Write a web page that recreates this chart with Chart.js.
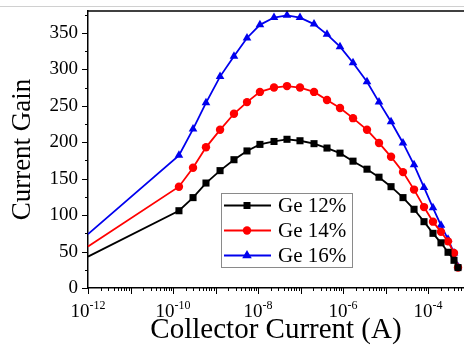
<!DOCTYPE html>
<html>
<head>
<meta charset="utf-8">
<script src="https://cdn.jsdelivr.net/npm/chart.js@4/dist/chart.umd.min.js"></script>
<style>
  body { margin: 0; background: #fff; }
</style>
</head>
<body>
<canvas id="myChart" width="464" height="345"></canvas>
<script>
'use strict';

//Data
let currents = [1e-12, 1.38e-10, 2.96e-10, 5.97e-10, 1.28e-9, 2.72e-9, 5.51e-9, 1.11e-8, 2.38e-8,
  4.81e-8, 9.73e-8, 2.08e-7, 4.20e-7, 8.50e-7, 1.72e-6, 3.67e-6, 7.03e-6, 1.35e-5, 2.58e-5,
  4.69e-5, 8.05e-5, 1.31e-4, 2.02e-4, 2.96e-4, 4.09e-4, 5.08e-4];
let gainGe12 = [43, 106, 124, 144, 161, 176, 188, 197, 201, 204, 202, 198, 192, 185, 174, 163,
  152, 139, 124, 108, 91, 75, 62, 49, 38, 28];
let gainGe14 = [57, 139, 165, 193, 217, 239, 255, 269, 275, 277, 275, 269, 258, 247, 233, 217,
  199, 180, 159, 135, 111, 91, 77, 64, 48, 28];
let gainGe16 = [74, 182, 218, 254, 290, 318, 343, 361, 371, 374, 371, 362, 348, 331, 309, 283,
  255, 228, 199, 169, 138, 110, 86, 67, 48, 29];
let seriesNames = ['Ge 12%', 'Ge 14%', 'Ge 16%'];
let seriesColors = ['#000000', '#ff0000', '#0000ee'];
let seriesMarkers = ['rect', 'circle', 'triangle'];
let xTickExponents = [-12, -10, -8, -6, -4];
let yTickLabels = [0, 50, 100, 150, 200, 250, 300, 350];

let serif = '"Liberation Serif", "Times New Roman", serif';

function toPoints(values){
  return values.map((v, i) => ({ x: currents[i], y: v }));
}

function makeDataset(i, values){
  return {
    label: seriesNames[i],
    data: toPoints(values),
    borderColor: seriesColors[i],
    backgroundColor: seriesColors[i],
    borderWidth: 1.8,
    pointStyle: seriesMarkers[i],
    pointRadius: ctx => ctx.dataIndex === 0 ? 0 : (i === 1 ? 4.2 : 5),
    pointBorderWidth: 0,
    tension: 0,
    clip: false
  };
}

function line(ctx, x1, y1, x2, y2){
  ctx.beginPath();
  ctx.moveTo(x1, y1);
  ctx.lineTo(x2, y2);
  ctx.stroke();
}

function marker(ctx, style, x, y){
  ctx.beginPath();
  if (style === 'rect'){
    ctx.rect(x - 3.5, y - 3.5, 7, 7);
  } else if (style === 'circle'){
    ctx.arc(x, y, 4.2, 0, Math.PI * 2);
  } else {
    ctx.moveTo(x, y - 5.5);
    ctx.lineTo(x + 4.76, y + 2.75);
    ctx.lineTo(x - 4.76, y + 2.75);
    ctx.closePath();
  }
  ctx.fill();
}

//Frame top, tick marks, power-of-ten labels and the boxed legend
let axisExtras = {
  id: 'axisExtras',
  afterDraw(chart){
    let ctx = chart.ctx;
    let area = chart.chartArea;
    let xs = chart.scales.x;
    let ys = chart.scales.y;
    ctx.save();

    ctx.strokeStyle = '#d0d0d0';
    ctx.lineWidth = 1;
    line(ctx, 0, 6.5, chart.width, 6.5);

    ctx.strokeStyle = '#000';
    ctx.lineWidth = 1.5;
    line(ctx, area.left, area.top, area.right, area.top);

    ctx.lineWidth = 1;
    for (let d = -12; d <= -3; d++){
      for (let k = 1; k <= 9; k++){
        let v = k * Math.pow(10, d);
        if (v > xs.max) break;
        let px = Math.round(xs.getPixelForValue(v)) + 0.5;
        line(ctx, px, area.bottom, px, area.bottom + (k === 1 ? 6 : 3));
      }
    }
    for (let v = 0; v <= ys.max; v += 25){
      let py = Math.round(ys.getPixelForValue(v)) + 0.5;
      line(ctx, area.left - (v % 50 === 0 ? 6 : 3), py, area.left, py);
    }

    ctx.fillStyle = '#000';
    ctx.textBaseline = 'alphabetic';
    ctx.textAlign = 'left';
    xTickExponents.forEach(e => {
      let px = xs.getPixelForValue(Math.pow(10, e));
      let exp = '-' + Math.abs(e);
      ctx.font = '19px ' + serif;
      let wBase = ctx.measureText('10').width;
      ctx.font = '12px ' + serif;
      let wExp = ctx.measureText(exp).width;
      let x0 = px - (wBase + wExp) / 2;
      ctx.font = '19px ' + serif;
      ctx.fillText('10', x0, 317);
      ctx.font = '12px ' + serif;
      ctx.fillText(exp, x0 + wBase, 309);
    });

    //legend
    let box = { left: 221, top: 193, width: 131, height: 74 };
    ctx.fillStyle = '#fff';
    ctx.fillRect(box.left, box.top, box.width, box.height);
    ctx.strokeStyle = '#8a8a8a';
    ctx.lineWidth = 1;
    ctx.strokeRect(box.left + 0.5, box.top + 0.5, box.width, box.height);
    ctx.font = '21px ' + serif;
    ctx.textBaseline = 'middle';
    seriesNames.forEach((name, i) => {
      let y = box.top + 12.5 + i * 25;
      ctx.strokeStyle = seriesColors[i];
      ctx.fillStyle = seriesColors[i];
      ctx.lineWidth = 1.8;
      line(ctx, box.left + 3, y, box.left + 50, y);
      marker(ctx, seriesMarkers[i], box.left + 26, y);
      ctx.fillStyle = '#000';
      ctx.fillText(name, box.left + 57, y + 1);
    });
    ctx.restore();
  }
};

let ctx = document.getElementById('myChart').getContext('2d');
new Chart(ctx, {
  type: 'line',
  data: {
    datasets: [
      makeDataset(0, gainGe12),
      makeDataset(1, gainGe14),
      makeDataset(2, gainGe16)
    ]
  },
  options: {
    responsive: false,
    animation: false,
    layout: { autoPadding: false, padding: { top: 0, right: 0, left: 0, bottom: 0 } },
    plugins: {
      legend: { display: false },
      tooltip: { enabled: false }
    },
    scales: {
      x: {
        type: 'logarithmic',
        min: 1e-12,
        max: 7.03e-4,
        grid: { display: false, drawTicks: false },
        border: { display: true, color: '#000', width: 1.5 },
        ticks: { display: false },
        title: {
          display: true,
          text: 'Collector Current (A)',
          color: '#000',
          font: { family: serif, size: 29, lineHeight: 1.0 },
          padding: { top: 0, bottom: 0 }
        },
        afterFit(scale){
          scale.height = 57;
          scale.paddingLeft = 0;
          scale.paddingRight = 0;
        }
      },
      y: {
        min: 0,
        max: 380,
        grid: { display: false, drawTicks: false },
        border: { display: true, color: '#000', width: 1.5 },
        afterBuildTicks(scale){
          scale.ticks = yTickLabels.map(v => ({ value: v }));
        },
        ticks: {
          color: '#000',
          padding: 10,
          autoSkip: false,
          font: { family: serif, size: 19 }
        },
        title: {
          display: true,
          text: 'Current Gain',
          color: '#000',
          font: { family: serif, size: 27, lineHeight: 1.2 },
          padding: { top: 7, bottom: 0 }
        },
        afterFit(scale){
          scale.width = 88;
          scale.paddingTop = 11;
          scale.paddingBottom = 0;
        }
      }
    }
  },
  plugins: [axisExtras]
});
</script>
</body>
</html>
